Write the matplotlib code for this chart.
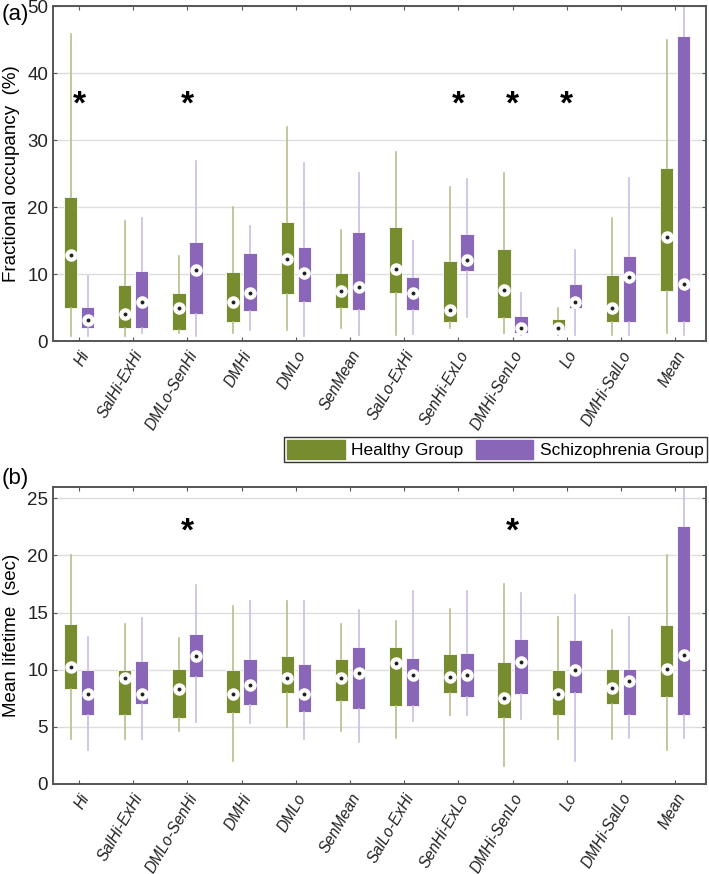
import numpy as np
import matplotlib
matplotlib.use("Agg")
import matplotlib.pyplot as plt
from matplotlib.patches import Patch

plt.rcParams['font.family'] = ['Liberation Sans', 'DejaVu Sans']

# categories
states = ['Hi', 'SalHi-ExHi', 'DMLo-SenHi', 'DMHi', 'DMLo', 'SenMean',
          'SalLo-ExHi', 'SenHi-ExLo', 'DMHi-SenLo', 'Lo', 'DMHi-SalLo', 'Mean']

# (a) fractional occupancy (%)  -- healthy
fo_h_lo  = [0.75, 0.75, 1.2, 1.2, 1.6, 2.0, 0.85, 2.0, 1.2, 0.85, 0.85, 1.2]
fo_h_q1  = [5.0, 2.0, 1.6, 2.9, 7.0, 5.0, 7.2, 2.9, 3.5, 1.6, 2.9, 7.4]
fo_h_med = [12.9, 4.1, 4.9, 5.9, 12.3, 7.4, 10.8, 4.6, 7.6, 2.0, 5.0, 15.5]
fo_h_q3  = [21.5, 8.4, 7.2, 10.3, 17.7, 10.1, 17.0, 11.9, 13.8, 3.3, 9.9, 25.8]
fo_h_hi  = [45.8, 17.9, 12.7, 20.0, 32.0, 16.6, 28.2, 23.0, 25.1, 5.0, 18.3, 44.9]
# (a) schizophrenia
fo_s_lo  = [0.75, 1.2, 0.75, 1.6, 0.75, 0.85, 1.1, 3.6, 0.85, 0.85, 0.85, 0.85]
fo_s_q1  = [1.9, 2.0, 4.1, 4.5, 5.8, 4.6, 4.6, 10.4, 1.2, 4.9, 2.9, 2.9]
fo_s_med = [3.2, 5.9, 10.6, 7.1, 10.1, 8.0, 7.2, 12.1, 2.0, 5.9, 9.5, 8.5]
fo_s_q3  = [5.1, 10.5, 14.8, 13.1, 14.1, 16.3, 9.6, 16.0, 3.7, 8.5, 12.7, 45.5]
fo_s_hi  = [9.75, 18.3, 26.9, 17.1, 26.5, 25.1, 14.9, 24.2, 7.1, 13.6, 24.3, 52.0]

# (b) mean lifetime (sec) -- healthy
ml_h_lo  = [3.95, 3.95, 4.6, 2.0, 5.0, 4.65, 4.0, 6.0, 1.6, 3.95, 3.95, 3.0]
ml_h_q1  = [8.3, 6.0, 5.8, 6.25, 8.0, 7.3, 6.8, 8.0, 5.8, 6.0, 7.0, 7.6]
ml_h_med = [10.2, 9.3, 8.3, 7.9, 9.3, 9.3, 10.6, 9.4, 7.5, 7.9, 8.4, 10.1]
ml_h_q3  = [14.0, 10.0, 10.1, 10.0, 11.2, 10.96, 11.95, 11.4, 10.7, 10.0, 10.1, 13.95]
ml_h_hi  = [20.0, 14.0, 12.8, 15.6, 16.0, 14.0, 14.3, 15.3, 17.5, 14.65, 13.5, 20.0]
# (b) schizophrenia
ml_s_lo  = [3.0, 3.95, 5.4, 5.3, 3.95, 3.7, 5.5, 6.0, 5.7, 2.0, 4.0, 4.0]
ml_s_q1  = [6.0, 7.0, 9.4, 6.9, 6.3, 6.6, 6.8, 7.6, 7.9, 8.0, 6.0, 6.0]
ml_s_med = [7.9, 7.9, 11.2, 8.7, 7.9, 9.7, 9.5, 9.5, 10.7, 10.0, 9.0, 11.3]
ml_s_q3  = [10.0, 10.8, 13.1, 10.9, 10.5, 11.95, 11.0, 11.5, 12.7, 12.6, 10.1, 22.6]
ml_s_hi  = [12.9, 14.5, 17.4, 16.0, 16.0, 15.2, 16.9, 16.9, 16.7, 16.5, 14.65, 27.0]

# significance markers (group index, y)
stars_a = [0, 2, 7, 8, 9]
stars_a_y = 35.2
stars_b = [2, 8]
stars_b_y = 22.0

green = '#768c2e'
green_w = '#b8bf8c'
purple = '#8966b8'
purple_w = '#cbbce4'

fig = plt.figure(figsize=(7.09, 8.74), dpi=100)
ax1 = fig.add_axes([0.0748, 0.6098, 0.921, 0.3833])
ax2 = fig.add_axes([0.0748, 0.1030, 0.921, 0.3400])

pos = np.arange(1, len(states) + 1)
off = 0.157
bw = 0.245


def draw_group(ax, lo, q1, med, q3, hi, x, fc, wc):
    stats = [dict(whislo=a, q1=b, med=c, q3=d, whishi=e, fliers=[])
             for a, b, c, d, e in zip(lo, q1, med, q3, hi)]
    ax.bxp(stats, positions=x, widths=bw, patch_artist=True, showcaps=False,
           showfliers=False, manage_ticks=False,
           boxprops=dict(facecolor=fc, edgecolor='white', linewidth=0.6),
           whiskerprops=dict(color=wc, linewidth=1.2),
           medianprops=dict(linewidth=0))
    ax.plot(x, med, 'o', ms=8, mfc='white', mec='white', zorder=5)
    ax.plot(x, med, 'o', ms=1.8, mfc='#222222', mec='#222222', zorder=6)


def style(ax, ymax, yticks, ylabel):
    ax.set_xlim(0.52, 12.57)
    ax.set_ylim(0, ymax)
    ax.set_yticks(yticks)
    ax.set_xticks(pos)
    ax.set_xticklabels(states, rotation=60, ha='right', rotation_mode='anchor',
                       fontstyle='italic', fontsize=11.2)
    ax.tick_params(axis='y', labelsize=13.5, direction='in', length=3,
                   right=True, colors='#555555', labelcolor='#222222')
    ax.tick_params(axis='x', direction='in', length=3, top=True,
                   colors='#555555', labelcolor='#222222', pad=5)
    ax.grid(axis='y', color='#dddddd', linewidth=1.0)
    ax.set_axisbelow(True)
    for s in ax.spines.values():
        s.set_color('#555555')
        s.set_linewidth(1.4)
    ax.set_ylabel(ylabel, fontsize=13.5, labelpad=5)


draw_group(ax1, fo_h_lo, fo_h_q1, fo_h_med, fo_h_q3, fo_h_hi, pos - off, green, green_w)
draw_group(ax1, fo_s_lo, fo_s_q1, fo_s_med, fo_s_q3, fo_s_hi, pos + off, purple, purple_w)
style(ax1, 50, [0, 10, 20, 30, 40, 50], 'Fractional occupancy  (%)')
for g in stars_a:
    ax1.text(pos[g], stars_a_y, '*', ha='center', va='center', fontsize=24,
             fontweight='bold')

draw_group(ax2, ml_h_lo, ml_h_q1, ml_h_med, ml_h_q3, ml_h_hi, pos - off, green, green_w)
draw_group(ax2, ml_s_lo, ml_s_q1, ml_s_med, ml_s_q3, ml_s_hi, pos + off, purple, purple_w)
style(ax2, 26, [0, 5, 10, 15, 20, 25], 'Mean lifetime  (sec)')
for g in stars_b:
    ax2.text(pos[g], stars_b_y, '*', ha='center', va='center', fontsize=24,
             fontweight='bold')

fig.text(0.002, 0.983, '(a)', fontsize=16, va='center')
fig.text(0.002, 0.452, '(b)', fontsize=16, va='center')

handles = [Patch(facecolor=green, edgecolor=green), Patch(facecolor=purple, edgecolor=purple)]
leg = fig.legend(handles, ['Healthy Group', 'Schizophrenia Group'], ncol=2,
                 loc='center', bbox_to_anchor=(0.699, 0.4857), fontsize=12.5,
                 frameon=True, fancybox=False, edgecolor='black',
                 handlelength=3.3, handleheight=1.25, handletextpad=0.4,
                 columnspacing=0.7, borderpad=0.2, borderaxespad=0)
leg.get_frame().set_linewidth(1.0)

fig.savefig('out.png', dpi=100)
